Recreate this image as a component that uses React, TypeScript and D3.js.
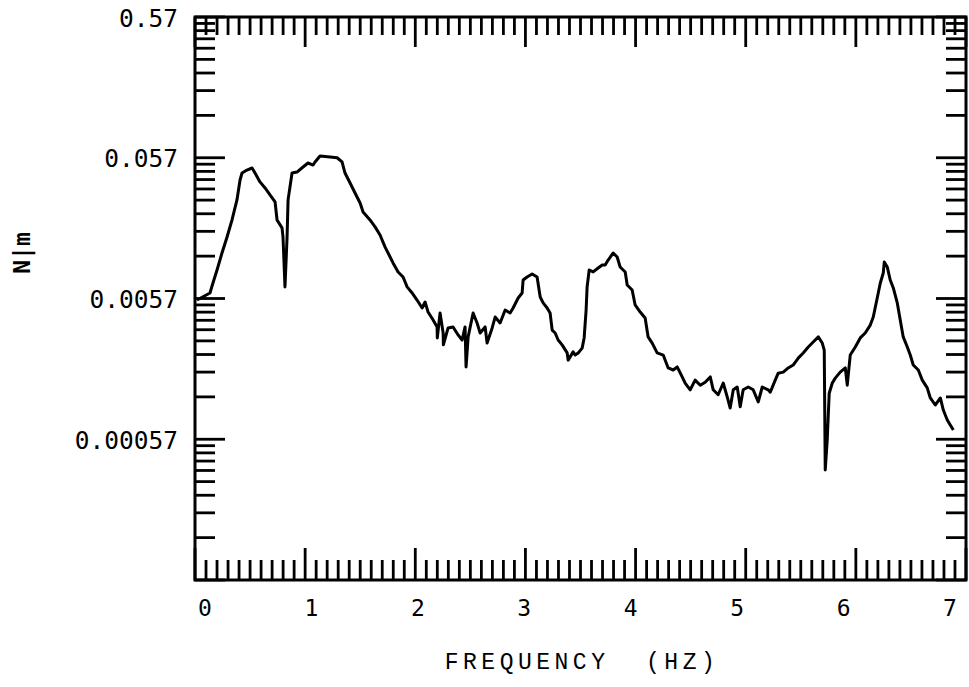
import React from "react";
import * as d3 from "d3";

// ---- data ----
const freqHz = [
  0.018, 0.136, 0.163, 0.2, 0.245, 0.291, 0.336, 0.381, 0.409, 0.427, 0.472, 0.518, 0.545, 0.59, 0.636, 0.681,
  0.727, 0.745, 0.79, 0.799, 0.817, 0.836, 0.845, 0.881, 0.926, 0.981, 1.026, 1.072, 1.09, 1.135, 1.226, 1.29,
  1.335, 1.362, 1.408, 1.453, 1.499, 1.526, 1.589, 1.635, 1.68, 1.726, 1.753, 1.798, 1.844, 1.889, 1.926, 1.971,
  2.016, 2.062, 2.089, 2.116, 2.162, 2.198, 2.2, 2.225, 2.253, 2.255, 2.298, 2.343, 2.389, 2.425, 2.452, 2.461,
  2.48, 2.525, 2.561, 2.589, 2.634, 2.652, 2.698, 2.725, 2.77, 2.816, 2.861, 2.888, 2.934, 2.97, 2.979, 3.015,
  3.061, 3.106, 3.134, 3.161, 3.197, 3.224, 3.243, 3.27, 3.297, 3.333, 3.379, 3.388, 3.433, 3.451, 3.479, 3.515,
  3.533, 3.551, 3.56, 3.579, 3.615, 3.66, 3.697, 3.724, 3.751, 3.797, 3.833, 3.86, 3.906, 3.924, 3.969, 3.996,
  4.042, 4.087, 4.114, 4.151, 4.196, 4.251, 4.296, 4.342, 4.378, 4.423, 4.45, 4.496, 4.541, 4.587, 4.632, 4.678,
  4.705, 4.75, 4.796, 4.832, 4.859, 4.887, 4.923, 4.95, 4.977, 5.023, 5.068, 5.114, 5.15, 5.204, 5.223, 5.268,
  5.295, 5.341, 5.386, 5.431, 5.477, 5.522, 5.568, 5.613, 5.659, 5.695, 5.713, 5.722, 5.74, 5.758, 5.786, 5.813,
  5.858, 5.904, 5.922, 5.949, 5.995, 6.04, 6.085, 6.131, 6.158, 6.194, 6.222, 6.249, 6.258, 6.285, 6.312, 6.34,
  6.376, 6.403, 6.43, 6.467, 6.494, 6.521, 6.567, 6.603, 6.648, 6.676, 6.721, 6.767, 6.794, 6.83, 6.857, 6.885,
];

const magMN = [
  0.00556, 0.00624, 0.00734, 0.00909, 0.012, 0.0156, 0.0206, 0.0286, 0.0396, 0.0444, 0.0466, 0.0482, 0.0444, 0.0384, 0.0348, 0.031,
  0.0277, 0.0206, 0.0181, 0.0156, 0.00689, 0.0156, 0.0286, 0.0444, 0.0451, 0.049, 0.0523, 0.0506, 0.0532, 0.0587, 0.0577, 0.057,
  0.0532, 0.0444, 0.0377, 0.032, 0.0272, 0.0235, 0.0206, 0.0184, 0.0161, 0.0132, 0.012, 0.0102, 0.0088, 0.00811, 0.00689, 0.00624,
  0.00556, 0.00488, 0.00538, 0.00457, 0.00401, 0.00358, 0.00299, 0.0045, 0.00324, 0.00267, 0.00352, 0.00358, 0.00314, 0.00289, 0.00358, 0.00186,
  0.00304, 0.0045, 0.00382, 0.00324, 0.00358, 0.00275, 0.00352, 0.00421, 0.00382, 0.00472, 0.0045, 0.00488, 0.00575, 0.00624, 0.00771, 0.00811,
  0.00851, 0.00811, 0.00584, 0.0053, 0.00488, 0.0045, 0.0034, 0.00324, 0.00289, 0.00267, 0.00234, 0.00208, 0.00238, 0.00226, 0.00234, 0.00253,
  0.00299, 0.00472, 0.00689, 0.00909, 0.0088, 0.00939, 0.00986, 0.00986, 0.0107, 0.012, 0.01124, 0.00955, 0.0088, 0.00711, 0.00655, 0.00513,
  0.00457, 0.00414, 0.00304, 0.00275, 0.00234, 0.00226, 0.00183, 0.00177, 0.00186, 0.00158, 0.00143, 0.00128, 0.0015, 0.00138, 0.00145, 0.00158,
  0.00128, 0.00118, 0.00143, 0.00114, 0.00095, 0.00128, 0.00134, 0.00097, 0.00128, 0.00134, 0.00128, 0.00105, 0.00134, 0.00128, 0.00123, 0.0015,
  0.00168, 0.00171, 0.00183, 0.00192, 0.00215, 0.00234, 0.00258, 0.0028, 0.00304, 0.00275, 0.00245, 0.000345, 0.000563, 0.00121, 0.00143, 0.00155,
  0.00171, 0.00183, 0.00138, 0.00226, 0.00258, 0.00299, 0.00324, 0.00369, 0.00421, 0.00575, 0.00734, 0.00865, 0.01035, 0.00955, 0.00771, 0.00677,
  0.0053, 0.00401, 0.00304, 0.00258, 0.00226, 0.00192, 0.00177, 0.0015, 0.00132, 0.00112, 0.000998, 0.00112, 0.000919, 0.000781, 0.00072, 0.000663,
];

const xMajorTicks = [0, 1, 2, 3, 4, 5, 6, 7];
const xTickLabels = ["0", "1", "2", "3", "4", "5", "6", "7"];
const yDecades = [0.000057, 0.00057, 0.0057, 0.057, 0.57];
const yTickLabels = ["", "0.00057", "0.0057", "0.057", "0.57"];
const xTitle = "FREQUENCY  (HZ)";
const yTitle = "N|m";

const W = 969;
const H = 687;

export default function App() {
  const x = d3.scaleLinear().domain([0, 7]).range([195, 966]);
  const xLab = d3.scaleLinear().domain([0, 7]).range([205, 950]);
  const y = d3.scaleLog().domain([0.000057, 0.57]).range([580, 17]);

  const xMinor = d3.range(0, 70).map((i) => i / 10).filter((v) => Math.abs(v - Math.round(v)) > 1e-6);
  const yMinor: number[] = [];
  yDecades.slice(0, -1).forEach((b) => {
    for (let k = 2; k <= 9; k++) yMinor.push(b * k);
  });

  const line = d3
    .line<number>()
    .x((_, i) => x(freqHz[i]))
    .y((_, i) => y(magMN[i]))
    .curve(d3.curveLinear);

  const [x0, x1] = x.range();
  const [yb, yt] = y.range();
  const stroke = "#000";

  return (
    <svg
      width={W}
      height={H}
      viewBox={`0 0 ${W} ${H}`}
      style={{ position: "absolute", left: 0, top: 0, background: "#fff" }}
    >
      <rect x={0} y={0} width={W} height={H} fill="#fff" />
      {/* frame */}
      <rect x={x0} y={yt} width={x1 - x0} height={yb - yt} fill="none" stroke={stroke} strokeWidth={3} />

      {/* x ticks: bottom (up) and top (down) */}
      <g stroke={stroke} strokeWidth={2.8}>
        {xMinor.map((v) => (
          <g key={"xm" + v}>
            <line x1={x(v)} x2={x(v)} y1={yb} y2={yb - 20} />
            <line x1={x(v)} x2={x(v)} y1={yt} y2={yt + 18} />
          </g>
        ))}
        {xMajorTicks.map((v) => (
          <g key={"xM" + v}>
            <line x1={x(v)} x2={x(v)} y1={yb} y2={yb - 32} />
            <line x1={x(v)} x2={x(v)} y1={yt} y2={yt + 30} />
          </g>
        ))}
      </g>

      {/* y ticks: left (right-pointing) and right (left-pointing) */}
      <g stroke={stroke} strokeWidth={2.8}>
        {yMinor.map((v, i) => (
          <g key={"ym" + i}>
            <line x1={x0} x2={x0 + 20} y1={y(v)} y2={y(v)} />
            <line x1={x1} x2={x1 - 20} y1={y(v)} y2={y(v)} />
          </g>
        ))}
        {yDecades.map((v, i) => (
          <g key={"yM" + i}>
            <line x1={x0} x2={x0 + 30} y1={y(v)} y2={y(v)} />
            <line x1={x1} x2={x1 - 30} y1={y(v)} y2={y(v)} />
          </g>
        ))}
      </g>

      {/* y tick labels */}
      <g fontFamily="'DejaVu Sans Mono', monospace" fontSize={24.5} fill={stroke}>
        {yDecades.map((v, i) =>
          yTickLabels[i] ? (
            <text key={"yl" + i} x={178} y={y(v) + 1} textAnchor="end" dominantBaseline="central">
              {yTickLabels[i]}
            </text>
          ) : null
        )}
      </g>

      {/* x tick labels */}
      <g fontFamily="'DejaVu Sans Mono', monospace" fontSize={23} fill={stroke}>
        {xMajorTicks.map((v, i) => (
          <text key={"xl" + v} x={xLab(v)} y={608} textAnchor="middle" dominantBaseline="central">
            {xTickLabels[i]}
          </text>
        ))}
      </g>

      {/* titles */}
      <text
        x={582}
        y={663}
        textAnchor="middle"
        dominantBaseline="central"
        fontFamily="'Liberation Mono', monospace"
        fontSize={23}
        letterSpacing={4.5}
        fill={stroke}
        style={{ whiteSpace: "pre" }}
      >
        {xTitle}
      </text>
      <text
        transform="translate(22,253) rotate(-90)"
        textAnchor="middle"
        dominantBaseline="central"
        fontFamily="'DejaVu Sans Mono', monospace"
        fontSize={23}
        fontWeight="bold"
        fill={stroke}
      >
        {yTitle}
      </text>

      {/* response curve */}
      <path d={line(magMN) || ""} fill="none" stroke={stroke} strokeWidth={3} strokeLinejoin="round" />
    </svg>
  );
}
